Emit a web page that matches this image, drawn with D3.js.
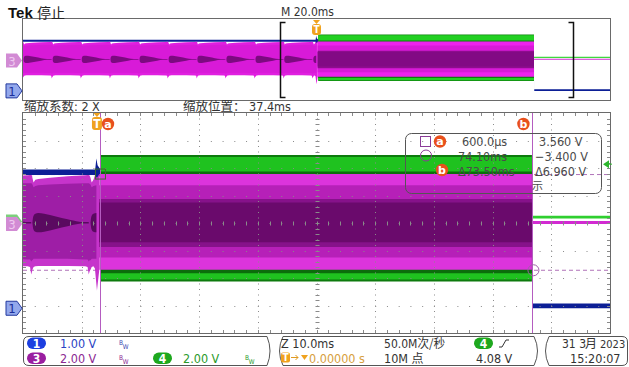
<!DOCTYPE html>
<html>
<head>
<meta charset="utf-8">
<script src="https://cdn.jsdelivr.net/npm/d3@7"></script>
<style>
  html, body { margin: 0; padding: 0; background: #fff; }
  svg { display: block; }
  text { font-family: "Liberation Sans Narrow", "DejaVu Sans Condensed", sans-serif; }
  .cjk { font-family: "Noto Sans CJK SC", sans-serif; }
</style>
</head>
<body>
<svg id="scope" width="629" height="367"></svg>
<script>
// ---------- channel settings ----------
const channelNames = ["1", "3", "4"];
const voltsPerDiv  = [1.00, 2.00, 2.00];
const groundDiv    = [-3.1, 0.0, 0.1];      // ground marker position, divisions from centre

// ---------- time bases (ms) ----------
const overviewSpan = [-100, 100];           // M 20.0ms / div
const zoomSpan     = [-12.6, 87.4];         // Z 10.0ms / div, position 37.4ms

// ---------- cursors / trigger ----------
const cursorTimes  = [0.6, 74.1];           // ms  (a, b)
const cursorVolts  = [3.56, -3.40];         // V on channel 3
const triggerLevel = 4.08;                  // V on channel 4

// ---------- channel 1 (blue) ----------
const ch1Time = [-110, -0.3, -0.1, 0.1, 0.6, 74.0, 74.2, 110];
const ch1Hi   = [5.05, 5.05, 5.45, 5.20, 5.05, 5.05, 0.17, 0.17];
const ch1Lo   = [4.85, 4.85, 4.30, 4.70, 4.85, 4.85, 0.00, 0.00];

// ---------- channel 3 (magenta) before trigger: one ripple period per mains half-cycle ----------
const cycleStarts = [-109.7, -99.8, -89.9, -80.0, -70.2, -60.3, -50.4, -40.6, -30.7, -20.8, -11.0, -1.1];
const cycleDt     = [0, 0.2, 0.5, 1.0, 3.0, 6.0, 9.0, 9.4, 9.6, 9.75];
const cycleHi     = [3.30, 2.95, 3.15, 3.20, 3.30, 3.40, 3.47, 3.50, 3.50, 3.45];
const cycleLo     = [-3.40, -3.20, -3.15, -3.12, -3.12, -3.13, -3.15, -3.20, -3.75, -3.50];
const cycleMidHi  = [2.80, 2.60, 2.70, 2.75, 2.80, 2.85, 2.90, 2.90, 2.90, 2.85];
const cycleMidLo  = [-2.70, -2.60, -2.60, -2.60, -2.60, -2.60, -2.65, -2.65, -2.80, -2.70];
// dark core of each ripple (teardrop with a thin wake)
const dropDt      = [0, 0.15, 0.5, 1.0, 2.0, 4.0, 6.0, 8.0, 8.6, 9.6];
const dropHalf    = [0, 0.45, 0.65, 0.70, 0.65, 0.45, 0.25, 0.08, 0.06, 0.05];
const dropCentre  = 0.02;

// channel 3 at the trigger edge
const ch3EdgeTime = [-0.35, 0.0, 0.4];
const ch3EdgeHi   = [3.45, 3.30, 3.56];
const ch3EdgeLo   = [-3.30, -4.90, -3.40];

// channel 3 during the burst (a → b) and after it
const ch3BurstTime  = [0.4, 74.1];
const ch3BurstHi    = [3.56, 3.56];
const ch3BurstLo    = [-3.40, -3.40];
const ch3Burst2Hi   = [2.75, 2.75];
const ch3Burst2Lo   = [-2.50, -2.50];
const ch3Burst3Hi   = [1.75, 1.75];
const ch3Burst3Lo   = [-1.75, -1.75];
const ch3Burst4Hi   = [1.50, 1.50];
const ch3Burst4Lo   = [-1.40, -1.40];
const ch3IdleTime   = [74.1, 110];
const ch3IdleHi     = [0.15, 0.15];
const ch3IdleLo     = [-0.07, -0.07];

// ---------- channel 4 (green) ----------
const ch4BurstTime  = [0.6, 74.1];
const ch4OuterHi    = [4.75, 4.75];
const ch4OuterLo    = [-4.45, -4.45];
const ch4BrightHi   = [4.60, 4.60];
const ch4BrightLo   = [-4.30, -4.30];
const ch4InnerHi    = [3.55, 3.55];
const ch4InnerLo    = [-3.85, -3.85];
const ch4IdleTime   = [74.1, 110];
const ch4IdleHi     = [0.32, 0.32];
const ch4IdleLo     = [0.12, 0.12];

// ---------- readout ----------
const readTimes = ["600.0µs", "74.10ms", "Δ73.50ms"];
const readVolts = ["3.560 V", "−3.400 V", "Δ6.960 V"];

// ---------- geometry ----------
const plotL = 23, plotR = 610;
const ovBox = { top: 19, bottom: 100 };
const mnBox = { top: 113, bottom: 333 };

const svg = d3.select("#scope");
const defs = svg.append("defs");

const xOv = d3.scaleLinear().domain(overviewSpan).range([plotL, plotR]);
const xMn = d3.scaleLinear().domain(zoomSpan).range([plotL, plotR]);
const divOv = d3.scaleLinear().domain([-4, 4]).range([ovBox.bottom, ovBox.top]);
const divMn = d3.scaleLinear().domain([-4, 4]).range([mnBox.bottom, mnBox.top]);

function chY(divScale, ch) {
  const i = channelNames.indexOf(ch);
  return v => divScale(v / voltsPerDiv[i] + groundDiv[i]);
}
function zipBand(t, hi, lo) { return t.map((d, i) => ({ t: d, hi: hi[i], lo: lo[i] })); }

// repeated ripple envelope before the trigger
function rippleBand(hi, lo, tEnd) {
  const pts = [];
  cycleStarts.forEach(s => cycleDt.forEach((d, i) => {
    if (s + d < tEnd) pts.push({ t: s + d, hi: hi[i], lo: lo[i] });
  }));
  return pts;
}

// ---------- band list (drawn in order) ----------
const bands = [];
bands.push({ ch: "1", pts: zipBand(ch1Time, ch1Hi, ch1Lo), main: "#0c1f96", ov: "#0c1f96" });
// channel 4
bands.push({ ch: "4", pts: zipBand(ch4BurstTime, ch4OuterHi, ch4OuterLo), main: "#0d7a0d", ov: "#108410" });
bands.push({ ch: "4", pts: zipBand(ch4BurstTime, ch4BrightHi, ch4BrightLo), main: "#1fc21f", ov: "#22d022" });
bands.push({ ch: "4", pts: zipBand(ch4BurstTime, ch4InnerHi, ch4InnerLo), main: "#0b6e0b", ov: "#0f7f0f" });
bands.push({ ch: "4", pts: zipBand(ch4IdleTime, ch4IdleHi, ch4IdleLo), main: "#2fcf2f", ov: "#3fd83f" });
// channel 3 before trigger
const preOuter = rippleBand(cycleHi, cycleLo, -0.35).concat(zipBand(ch3EdgeTime, ch3EdgeHi, ch3EdgeLo));
bands.push({ ch: "3", pts: preOuter, main: "#c634cb", ov: "#e01fe0" });
bands.push({ ch: "3", pts: rippleBand(cycleMidHi, cycleMidLo, 0.2), main: "#9e1ea6", ov: "#d81ad8" });
cycleStarts.forEach(s => {
  const pts = dropDt.map((d, i) => ({ t: s + d, hi: dropCentre + dropHalf[i], lo: dropCentre - dropHalf[i] }))
                    .filter(p => p.t <= 0.3);
  bands.push({ ch: "3", pts, main: "#5a0a60", ov: "#7c0a80", curve: d3.curveMonotoneX });
});
// channel 3 burst
bands.push({ ch: "3", pts: zipBand(ch3BurstTime, ch3BurstHi, ch3BurstLo), main: "#dc34dc", ov: "#ee22ee" });
bands.push({ ch: "3", pts: zipBand(ch3BurstTime, ch3Burst2Hi, ch3Burst2Lo), main: "#b620b8", ov: "#d81ad8" });
bands.push({ ch: "3", pts: zipBand(ch3BurstTime, ch3Burst3Hi, ch3Burst3Lo), main: "#86128a", ov: "#8e0c8e" });
bands.push({ ch: "3", pts: zipBand(ch3BurstTime, ch3Burst4Hi, ch3Burst4Lo), main: "#6a0a6c", ov: "#820a84" });
bands.push({ ch: "3", pts: zipBand(ch3IdleTime, ch3IdleHi, ch3IdleLo), main: "#d22ad2", ov: "#d22ad2" });

// ---------- panel drawing ----------
function drawPanel(id, box, x, divScale, key, withGrid) {
  const clipId = "clip-" + id;
  defs.append("clipPath").attr("id", clipId)
    .append("rect").attr("x", plotL).attr("y", box.top).attr("width", plotR - plotL).attr("height", box.bottom - box.top);
  const g = svg.append("g").attr("clip-path", `url(#${clipId})`);

  // horizontal cursors (behind traces, zoom panel only)
  if (withGrid) {
    const y3 = chY(divScale, "3");
    cursorVolts.forEach(v => g.append("line")
      .attr("x1", plotL).attr("x2", plotR).attr("y1", y3(v) + 0.5).attr("y2", y3(v) + 0.5)
      .attr("stroke", "#b072b8").attr("stroke-width", 1).attr("stroke-dasharray", "4,3"));
  }

  bands.forEach(b => {
    const y = chY(divScale, b.ch);
    const area = d3.area().x(d => x(d.t)).y0(d => y(d.lo)).y1(d => y(d.hi)).curve(b.curve || d3.curveLinear);
    g.append("path").attr("d", area(b.pts)).attr("fill", b[key]);
  });

  if (withGrid) {
    const gridCol = "#8a8a8a";
    const xTicks = d3.range(1, 10).map(i => zoomSpan[0] + i * 10);
    const yTicks = d3.range(-3, 4);
    const divH = (box.bottom - box.top) / 8;
    const divW = (plotR - plotL) / 10;
    // dotted vertical division lines
    g.selectAll(null).data(xTicks).enter().append("line")
      .attr("x1", d => Math.round(x(d)) + 0.5).attr("x2", d => Math.round(x(d)) + 0.5)
      .attr("y1", box.top).attr("y2", box.bottom)
      .attr("stroke", gridCol).attr("stroke-dasharray", `1,${divH / 5 - 1}`);
    // dotted horizontal division lines
    g.selectAll(null).data(yTicks).enter().append("line")
      .attr("y1", d => Math.round(divScale(d)) + 0.5).attr("y2", d => Math.round(divScale(d)) + 0.5)
      .attr("x1", plotL).attr("x2", plotR)
      .attr("stroke", gridCol).attr("stroke-dasharray", `1,${divW / 5 - 1}`);
    // minor ticks on the centre lines and borders
    const xc = Math.round(x(zoomSpan[0] + 50)) + 0.5;
    const yc = Math.round(divScale(0)) + 0.5;
    const minorX = d3.range(1, 50).map(i => plotL + i * divW / 5);
    const minorY = d3.range(1, 40).map(i => box.top + i * divH / 5);
    g.selectAll(null).data(minorX).enter().append("line")
      .attr("x1", d => Math.round(d) + 0.5).attr("x2", d => Math.round(d) + 0.5)
      .attr("y1", yc - 2).attr("y2", yc + 2).attr("stroke", gridCol);
    g.selectAll(null).data(minorY).enter().append("line")
      .attr("y1", d => Math.round(d) + 0.5).attr("y2", d => Math.round(d) + 0.5)
      .attr("x1", xc - 2).attr("x2", xc + 2).attr("stroke", gridCol);
    g.selectAll(null).data(minorY).enter().append("line")
      .attr("y1", d => Math.round(d) + 0.5).attr("y2", d => Math.round(d) + 0.5)
      .attr("x1", plotL).attr("x2", plotL + 3).attr("stroke", gridCol);
    g.selectAll(null).data(minorY).enter().append("line")
      .attr("y1", d => Math.round(d) + 0.5).attr("y2", d => Math.round(d) + 0.5)
      .attr("x1", plotR - 3).attr("x2", plotR).attr("stroke", gridCol);
    g.selectAll(null).data(minorX).enter().append("line")
      .attr("x1", d => Math.round(d) + 0.5).attr("x2", d => Math.round(d) + 0.5)
      .attr("y1", box.top).attr("y2", box.top + 3).attr("stroke", gridCol);
    g.selectAll(null).data(minorX).enter().append("line")
      .attr("x1", d => Math.round(d) + 0.5).attr("x2", d => Math.round(d) + 0.5)
      .attr("y1", box.bottom - 3).attr("y2", box.bottom).attr("stroke", gridCol);

    // vertical cursors a / b
    cursorTimes.forEach(t => g.append("line")
      .attr("x1", Math.round(x(t)) + 0.5).attr("x2", Math.round(x(t)) + 0.5)
      .attr("y1", box.top).attr("y2", box.bottom)
      .attr("stroke", "#b45cc0").attr("stroke-width", 1));
    // cursor intersection markers
    const y3 = chY(divScale, "3");
    g.append("rect").attr("x", x(cursorTimes[0]) - 5).attr("y", y3(cursorVolts[0]) - 5)
      .attr("width", 10).attr("height", 10).attr("fill", "none").attr("stroke", "#3f6a2f").attr("stroke-width", 1);
    g.append("circle").attr("cx", x(cursorTimes[1]) + 1.5).attr("cy", y3(cursorVolts[1]) + 0.5).attr("r", 5.5)
      .attr("fill", "none").attr("stroke", "#a060aa").attr("stroke-width", 1);
  }

  svg.append("rect").attr("x", plotL - 0.5).attr("y", box.top - 0.5)
    .attr("width", plotR - plotL + 1).attr("height", box.bottom - box.top + 1)
    .attr("fill", "none").attr("stroke", "#6a6a6a").attr("stroke-width", 1);
}

drawPanel("ov", ovBox, xOv, divOv, "ov", false);
drawPanel("mn", mnBox, xMn, divMn, "main", true);

// ---------- overview zoom bracket ----------
{
  const xa = Math.round(xOv(zoomSpan[0])) + 0.5, xb = Math.round(xOv(zoomSpan[1])) + 0.5;
  const top = 22.5, bot = 97.5;
  svg.append("path").attr("d", `M${xa + 5},${top} H${xa} V${bot} H${xa + 5}`)
    .attr("fill", "none").attr("stroke", "#111").attr("stroke-width", 1.5);
  svg.append("path").attr("d", `M${xb - 5},${top} H${xb} V${bot} H${xb - 5}`)
    .attr("fill", "none").attr("stroke", "#111").attr("stroke-width", 1.5);
}

// ---------- trigger markers ----------
function triggerT(cx, top, w, h) {
  const g = svg.append("g");
  g.append("path").attr("d", `M${cx - 3.5},${top} L${cx + 3.5},${top} L${cx},${top + 4} Z`).attr("fill", "#f0a21e");
  g.append("rect").attr("x", cx - w / 2).attr("y", top + 4).attr("width", w).attr("height", h).attr("rx", 3)
    .attr("fill", "#f0a21e");
  g.append("text").attr("x", cx).attr("y", top + 4 + h - 2.5).attr("text-anchor", "middle")
    .attr("font-size", h - 1).attr("font-weight", "bold").attr("fill", "#fff").text("T");
}
triggerT(xOv(0), 20, 9, 11);
triggerT(xMn(0), 113, 10, 13);

function cursorTag(cx, cy, label) {
  svg.append("circle").attr("cx", cx).attr("cy", cy).attr("r", 6.2).attr("fill", "#e8501c");
  svg.append("text").attr("x", cx).attr("y", cy + 3.8).attr("text-anchor", "middle")
    .attr("font-size", 11).attr("font-weight", "bold").attr("fill", "#fff")
    .style("font-family", "'DejaVu Sans', sans-serif").text(label);
}
cursorTag(xMn(cursorTimes[0]) + 7.5, 124, "a");
cursorTag(xMn(cursorTimes[1]) - 8.5, 124, "b");

// trigger level arrow on the right (channel 4)
{
  const yt = chY(divMn, "4")(triggerLevel);
  svg.append("path").attr("d", `M${plotR - 7},${yt} L${plotR - 1},${yt - 4} L${plotR - 1},${yt + 4} Z`).attr("fill", "#2bb52b");
  svg.append("line").attr("x1", plotR - 1).attr("x2", plotR + 2).attr("y1", yt).attr("y2", yt).attr("stroke", "#2bb52b");
}

// ---------- channel ground markers ----------
function groundMarker(cy, fill, stroke, textCol, label) {
  const g = svg.append("g");
  g.append("path").attr("d", `M6,${cy - 7} H17 L22,${cy} L17,${cy + 7} H6 Z`)
    .attr("fill", fill).attr("stroke", stroke).attr("stroke-width", 1);
  if (label) g.append("text").attr("x", 12).attr("y", cy + 5).attr("text-anchor", "middle")
    .attr("font-size", 13).attr("fill", textCol).text(label);
}
// channel 4 marker sits just behind channel 3's in the zoom panel
groundMarker(divMn(groundDiv[1]) - 1.5, "#7ccf7c", "none", "#7ccf7c", "");
[divOv, divMn].forEach(ds => {
  groundMarker(ds(groundDiv[1]) + 1, "#d28bd4", "none", "#efc9f0", "3");
  groundMarker(ds(groundDiv[0]), "#93a8ec", "#23389e", "#1c2f9a", "1");
});

// ---------- cursor readout ----------
{
  const bx = 405.5, by = 133.5, bw = 196, bh = 60;
  svg.append("rect").attr("x", bx).attr("y", by).attr("width", bw).attr("height", bh).attr("rx", 6)
    .attr("fill", "none").attr("stroke", "#555").attr("stroke-width", 1);
  svg.append("rect").attr("x", 420.5).attr("y", 136.5).attr("width", 10).attr("height", 10)
    .attr("fill", "none").attr("stroke", "#8b3c98");
  svg.append("circle").attr("cx", 426).attr("cy", 155.5).attr("r", 5.5)
    .attr("fill", "none").attr("stroke", "#8b3c98");
  cursorTag(440, 141.5, "a");
  cursorTag(442, 170, "b");
  const rows = [146, 161, 175.5];
  readTimes.forEach((s, i) => svg.append("text").attr("x", i === 0 ? 462 : 458).attr("y", rows[i])
    .attr("font-size", 12.5).attr("fill", "#4a4a4a").text(s));
  readVolts.forEach((s, i) => svg.append("text").attr("x", i === 0 ? 539 : 535).attr("y", rows[i])
    .attr("font-size", 12.5).attr("fill", "#4a4a4a").text(s));
  svg.append("text").attr("class", "cjk").attr("x", 532).attr("y", 190)
    .attr("font-size", 11).attr("fill", "#4a4a4a").text("示");
}

// ---------- header texts ----------
svg.append("text").attr("x", 8).attr("y", 18).attr("font-size", 15).attr("font-weight", "bold")
  .style("font-family", "'Liberation Sans', sans-serif").attr("fill", "#111").text("Tek");
svg.append("text").attr("class", "cjk").attr("x", 37).attr("y", 18).attr("font-size", 14).attr("fill", "#222").text("停止");
svg.append("text").attr("x", 281).attr("y", 16).attr("font-size", 12).attr("fill", "#333").text("M 20.0ms");
svg.append("text").attr("x", 24).attr("y", 111).attr("font-size", 12.5).attr("fill", "#333")
  .call(t => { t.append("tspan").attr("class", "cjk").text("缩放系数"); t.append("tspan").text(": 2 X"); });
svg.append("text").attr("x", 183).attr("y", 111).attr("font-size", 12.5).attr("fill", "#333")
  .call(t => { t.append("tspan").attr("class", "cjk").text("缩放位置："); t.append("tspan").text(" 37.4ms"); });

// ---------- bottom status bar ----------
const boxStroke = "#555";
svg.append("path").attr("d", "M29,336.5 H267 Q273,351 267,365.5 H29 Q23.5,365.5 23.5,360 V342 Q23.5,336.5 29,336.5 Z")
  .attr("fill", "none").attr("stroke", boxStroke);
svg.append("path").attr("d", "M283,336.5 H534 Q541,351 534,365.5 H283 Q276,351 283,336.5 Z")
  .attr("fill", "none").attr("stroke", boxStroke);
svg.append("path").attr("d", "M549,336.5 H622 Q627.5,336.5 627.5,342 V360 Q627.5,365.5 622,365.5 H549 Q542,351 549,336.5 Z")
  .attr("fill", "none").attr("stroke", boxStroke);

const fs = 12.5;
function pill(x, y, fill, label) {
  svg.append("rect").attr("x", x).attr("y", y).attr("width", 19).attr("height", 11.5).attr("rx", 5.75).attr("fill", fill);
  svg.append("text").attr("x", x + 9.5).attr("y", y + 10).attr("text-anchor", "middle")
    .attr("font-size", 12).attr("font-weight", "bold").attr("fill", "#fff").text(label);
}
function bwIcon(x, y, col) {
  svg.append("text").attr("x", x).attr("y", y - 2).attr("font-size", 6.5).attr("fill", col)
    .call(t => { t.append("tspan").text("B"); t.append("tspan").attr("dy", 3.5).text("W"); });
}
pill(27, 337.5, "#1c3fe0", "1");
svg.append("text").attr("x", 60).attr("y", 348).attr("font-size", fs).attr("fill", "#2a44c4").text(`${voltsPerDiv[0].toFixed(2)} V`);
bwIcon(119, 347, "#3a4ab0");
pill(27, 352.5, "#9a1ea0", "3");
svg.append("text").attr("x", 60).attr("y", 363).attr("font-size", fs).attr("fill", "#8c2892").text(`${voltsPerDiv[1].toFixed(2)} V`);
bwIcon(119, 362, "#8c2892");
pill(153, 352.5, "#1ea81e", "4");
svg.append("text").attr("x", 183).attr("y", 363).attr("font-size", fs).attr("fill", "#2a9a2a").text(`${voltsPerDiv[2].toFixed(2)} V`);
bwIcon(245, 362, "#2a9a2a");

svg.append("text").attr("x", 281).attr("y", 348).attr("font-size", fs).attr("fill", "#333").text("Z 10.0ms");
svg.append("rect").attr("x", 281).attr("y", 352.5).attr("width", 9).attr("height", 10).attr("rx", 2).attr("fill", "#f0a21e");
svg.append("text").attr("x", 285.5).attr("y", 361).attr("text-anchor", "middle").attr("font-size", 10)
  .attr("font-weight", "bold").attr("fill", "#fff").text("T");
svg.append("path").attr("d", "M291,357.5 H298 M295.5,355 L298,357.5 L295.5,360").attr("fill", "none").attr("stroke", "#e09a20");
svg.append("path").attr("d", "M301,355 L308,355 L304.5,360 Z").attr("fill", "#f0a21e");
svg.append("text").attr("x", 309).attr("y", 363).attr("font-size", fs).attr("fill", "#d7a040").text("0.00000 s");

svg.append("text").attr("x", 384).attr("y", 348).attr("font-size", fs).attr("fill", "#333")
  .attr("textLength", 61).attr("lengthAdjust", "spacingAndGlyphs")
  .call(t => { t.append("tspan").text("50.0M"); t.append("tspan").attr("class", "cjk").attr("font-size", 12).text("次/秒"); });
svg.append("text").attr("x", 384).attr("y", 363).attr("font-size", fs).attr("fill", "#333")
  .call(t => { t.append("tspan").text("10M "); t.append("tspan").attr("class", "cjk").attr("font-size", 12).text("点"); });
pill(474, 337.5, "#1ea81e", "4");
svg.append("path").attr("d", "M499,347 H502 L506,340 H509").attr("fill", "none").attr("stroke", "#333");
svg.append("text").attr("x", 476).attr("y", 363).attr("font-size", fs).attr("fill", "#333").text(`${triggerLevel.toFixed(2)} V`);

// date and time
svg.append("text").attr("x", 562).attr("y", 348).attr("font-size", 12).attr("fill", "#333").text("31 3");
svg.append("text").attr("class", "cjk").attr("x", 585).attr("y", 348).attr("font-size", 12).attr("fill", "#333").text("月");
svg.append("text").attr("x", 600).attr("y", 348).attr("font-size", 11).attr("fill", "#333").text("2023");
svg.append("text").attr("x", 570).attr("y", 363).attr("font-size", fs).attr("fill", "#333").text("15:20:07");
</script>
</body>
</html>
